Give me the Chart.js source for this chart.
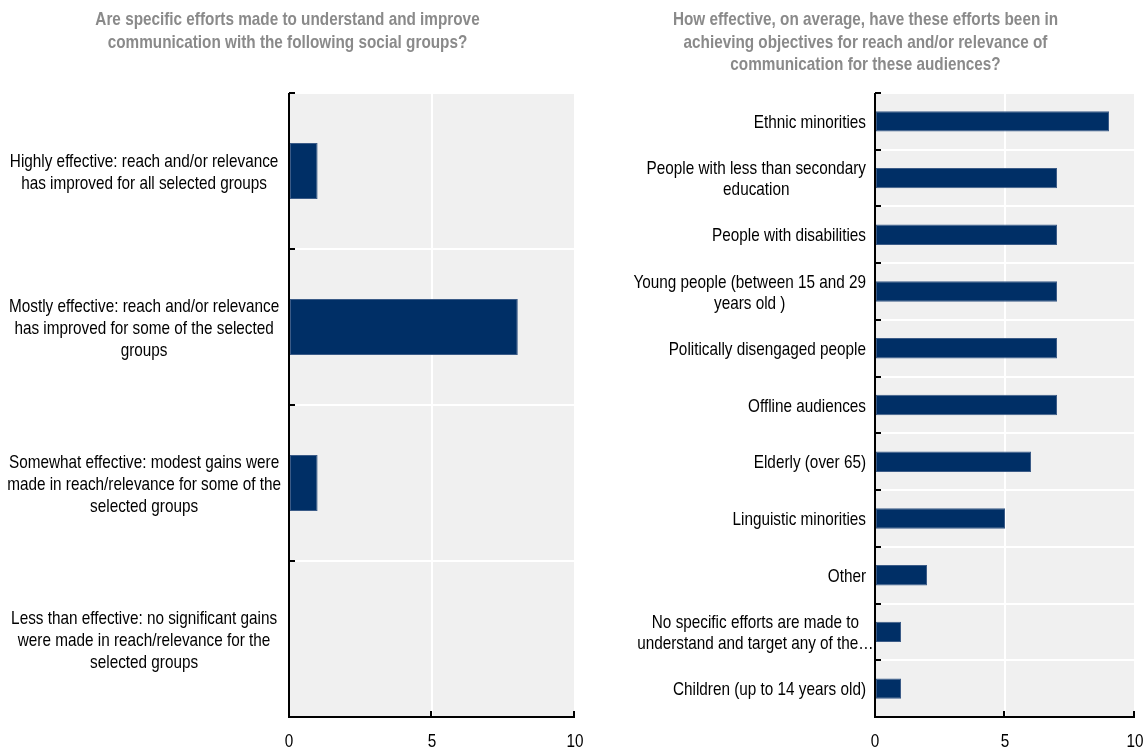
<!DOCTYPE html>
<html>
<head>
<meta charset="utf-8">
<script src="https://cdn.jsdelivr.net/npm/chart.js@4"></script>
<style>
    html, body { margin: 0; padding: 0; background: #fff; }
    #wrap { position: relative; width: 1146px; height: 748px; overflow: hidden; }
    canvas { position: absolute; top: 0; }
    #left-chart { left: 0; }
    #right-chart { left: 596px; }
</style>
</head>
<body>
<div id="wrap">
    <canvas id="left-chart" width="596" height="748"></canvas>
    <canvas id="right-chart" width="550" height="748"></canvas>
</div>
<script>
// Data
const leftTitle = ['Are specific efforts made to understand and improve', 'communication with the following social groups?'];
const leftCategories = [
    ['Highly effective: reach and/or relevance', 'has improved for all selected groups'],
    ['Mostly effective: reach and/or relevance', 'has improved for some of the selected', 'groups'],
    ['Somewhat effective: modest gains were', 'made in reach/relevance for some of the', 'selected groups'],
    ['Less than effective: no significant gains', 'were made in reach/relevance for the', 'selected groups']
];
const leftValues = [1, 8, 1, 0];

const rightTitle = ['How effective, on average, have these efforts been in', 'achieving objectives for reach and/or relevance of', 'communication for these audiences?'];
const rightCategories = [
    ['Ethnic minorities'],
    ['People with less than secondary', 'education'],
    ['People with disabilities'],
    ['Young people (between 15 and 29', 'years old )'],
    ['Politically disengaged people'],
    ['Offline audiences'],
    ['Elderly (over 65)'],
    ['Linguistic minorities'],
    ['Other'],
    ['No specific efforts are made to', 'understand and target any of the…'],
    ['Children (up to 14 years old)']
];
const rightValues = [9, 7, 7, 7, 7, 7, 6, 5, 2, 1, 1];

const xTicks = [0, 5, 10];

const FONT = '"Liberation Sans", Arial, sans-serif';
const FONT_SIZE = 18.5;
const NARROW = 0.827; // no Arial Narrow here, so squeeze the glyphs
const TEXT_DY = 1.5;  // canvas 'middle' sits a little high for caps
const BAR_COLOR = '#002F66';
const PLOT_BG = '#F0F0F0';

// make every text drawn on this canvas condensed, like Arial Narrow
function narrowContext(canvas, k) {
    const ctx = canvas.getContext('2d');
    const fill = ctx.fillText.bind(ctx);
    const measure = ctx.measureText.bind(ctx);
    ctx.fillText = function(text, x, y, maxWidth) {
        ctx.save();
        ctx.translate(x, y + TEXT_DY);
        ctx.scale(k, 1);
        if (maxWidth !== undefined) fill(text, 0, 0, maxWidth / k);
        else fill(text, 0, 0);
        ctx.restore();
    };
    ctx.measureText = function(text) {
        const m = measure(text);
        return {
            width: m.width * k,
            actualBoundingBoxAscent: m.actualBoundingBoxAscent,
            actualBoundingBoxDescent: m.actualBoundingBoxDescent,
            actualBoundingBoxLeft: m.actualBoundingBoxLeft * k,
            actualBoundingBoxRight: m.actualBoundingBoxRight * k
        };
    };
    return canvas;
}

// grey plot background
const plotBackground = {
    id: 'plotBackground',
    beforeDraw(chart) {
        const { ctx, chartArea: a } = chart;
        ctx.save();
        ctx.fillStyle = PLOT_BG;
        ctx.fillRect(a.left, a.top, a.right - a.left, a.bottom - a.top);
        ctx.restore();
    }
};

// black axis lines with small inward ticks
const axisFrame = {
    id: 'axisFrame',
    afterDatasetsDraw(chart) {
        const { ctx, chartArea: a, scales } = chart;
        const y = scales.y, x = scales.x;
        ctx.save();
        ctx.strokeStyle = '#000';
        ctx.lineWidth = 2;
        ctx.beginPath();
        ctx.moveTo(a.left, a.top);
        ctx.lineTo(a.left, a.bottom);
        ctx.lineTo(a.right, a.bottom);
        ctx.stroke();
        // category boundary ticks
        const step = y.getPixelForValue(1) - y.getPixelForValue(0);
        for (let i = 0; i < y.ticks.length; i++) {
            const py = Math.round(y.getPixelForValue(i) - step / 2);
            ctx.beginPath();
            ctx.moveTo(a.left, py);
            ctx.lineTo(a.left + 6, py);
            ctx.stroke();
        }
        xTicks.slice(1).forEach(v => {
            const px = Math.round(x.getPixelForValue(v)) - 1;
            ctx.beginPath();
            ctx.moveTo(px, a.bottom);
            ctx.lineTo(px, a.bottom - 6);
            ctx.stroke();
        });
        ctx.restore();
    }
};

// labels: each block right-aligned to the axis, lines centred inside the block
const blockLabels = {
    id: 'blockLabels',
    afterDraw(chart) {
        const opts = chart.options.plugins.blockLabels;
        if (!opts || !opts.enabled) return;
        const { ctx, chartArea: a, scales } = chart;
        ctx.save();
        ctx.font = `${opts.size}px ${FONT}`;
        ctx.fillStyle = '#000';
        ctx.textAlign = 'center';
        ctx.textBaseline = 'middle';
        chart.data.labels.forEach((lines, i) => {
            const cy = scales.y.getPixelForValue(i);
            const w = Math.max(...lines.map(l => ctx.measureText(l.replace('…', '')).width));
            const cx = a.left - opts.gap - w / 2;
            lines.forEach((line, j) => {
                const ly = cy + (j - (lines.length - 1) / 2) * opts.lineHeight;
                ctx.fillText(line, cx, ly);
            });
        });
        ctx.restore();
    }
};

function makeChart(canvasId, labels, values, title, cfg) {
    const canvas = narrowContext(document.getElementById(canvasId), NARROW);
    return new Chart(canvas, {
        type: 'bar',
        data: {
            labels: labels,
            datasets: [{
                data: values,
                backgroundColor: BAR_COLOR,
                borderColor: '#3B5B87',
                borderWidth: 1,
                borderSkipped: false,
                barPercentage: 0.36,
                categoryPercentage: 1
            }]
        },
        plugins: [plotBackground, axisFrame, blockLabels],
        options: {
            indexAxis: 'y',
            responsive: false,
            animation: false,
            layout: { padding: { left: 0, right: cfg.padRight, top: 0, bottom: 0 } },
            scales: {
                x: {
                    min: 0,
                    max: 10,
                    afterBuildTicks: axis => { axis.ticks = xTicks.map(v => ({ value: v })); },
                    afterFit: axis => {
                        axis.height = 31;
                        axis.paddingLeft = 0;
                        axis.paddingRight = 0;
                    },
                    grid: { color: '#FFFFFF', lineWidth: 2, drawTicks: false },
                    border: { display: false },
                    ticks: { color: '#000', padding: 12, font: { family: FONT, size: FONT_SIZE } }
                },
                y: {
                    afterFit: axis => { axis.width = cfg.axisWidth; },
                    grid: { color: '#FFFFFF', lineWidth: 2, offset: true, drawTicks: false },
                    border: { display: false },
                    ticks: {
                        display: cfg.nativeLabels,
                        color: '#000',
                        padding: 8,
                        crossAlign: 'center',
                        font: { family: FONT, size: FONT_SIZE, lineHeight: 22 / FONT_SIZE }
                    }
                }
            },
            plugins: {
                legend: { display: false },
                tooltip: { enabled: false },
                title: {
                    display: true,
                    text: title,
                    color: '#8A8A8A',
                    align: 'center',
                    font: { family: FONT, size: FONT_SIZE, weight: 'bold', lineHeight: 22.5 / FONT_SIZE },
                    padding: cfg.titlePadding
                },
                blockLabels: { enabled: !cfg.nativeLabels, size: FONT_SIZE, lineHeight: 21, gap: 9 }
            }
        }
    });
}

makeChart('left-chart', leftCategories, leftValues, leftTitle, {
    padRight: 21, axisWidth: 289, nativeLabels: true, titlePadding: { top: 7.5, bottom: 40.5 }
});
makeChart('right-chart', rightCategories, rightValues, rightTitle, {
    padRight: 11, axisWidth: 279, nativeLabels: false, titlePadding: { top: 7.5, bottom: 18 }
});
</script>
</body>
</html>
